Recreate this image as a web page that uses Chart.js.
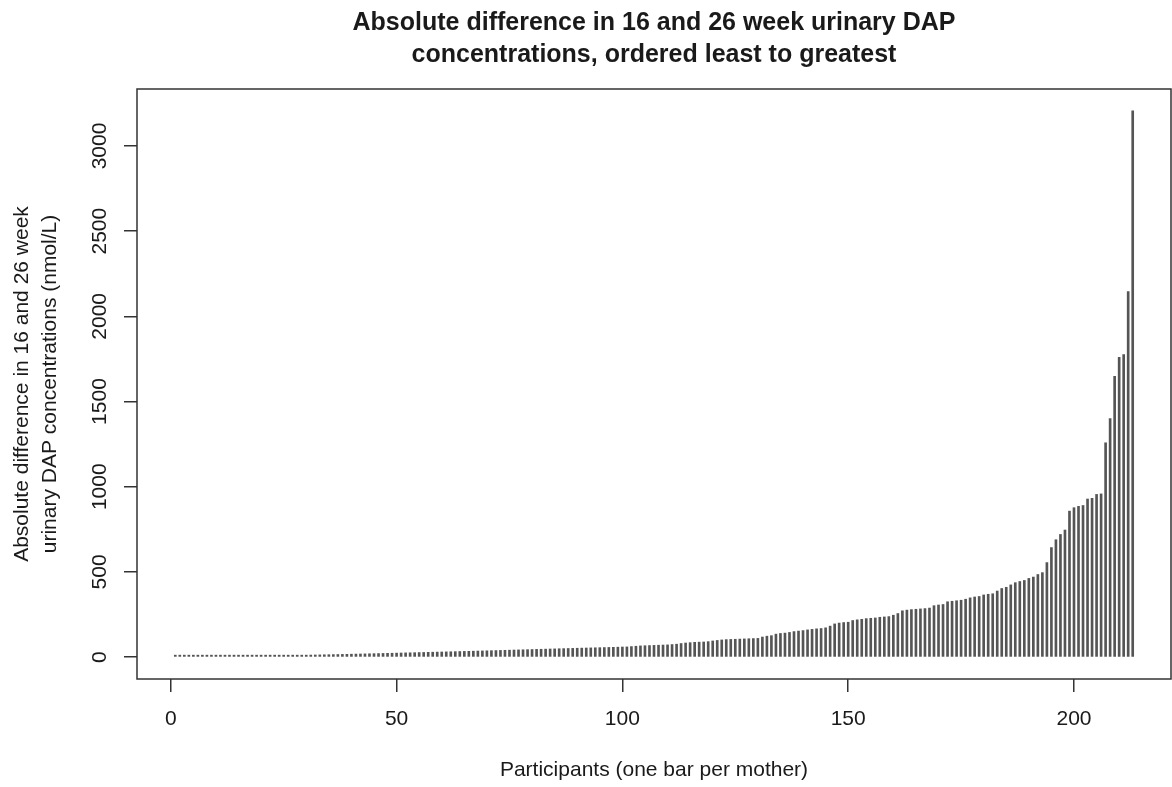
<!DOCTYPE html>
<html>
<head>
<meta charset="utf-8">
<title>Absolute difference in 16 and 26 week urinary DAP concentrations</title>
<script src="https://cdn.jsdelivr.net/npm/chart.js@4/dist/chart.umd.min.js"></script>
<style>
  html, body { margin: 0; padding: 0; background: #fff; }
</style>
</head>
<body>
<canvas id="dapChart" width="1172" height="787"></canvas>
<script>
// absolute 16 vs 26 week difference (nmol/L), one value per mother, sorted
const differences = [
  0.3, 0.6, 1, 1.3, 1.7, 2, 2.4, 2.8, 3.1, 3.5,
  3.9, 4.2, 4.6, 5, 5.4, 5.8, 6.1, 6.5, 7, 7.4,
  7.8, 8.2, 8.6, 9, 9.5, 10, 10.4, 10.9, 11.3, 11.8,
  12.3, 12.8, 13.3, 13.9, 14.4, 15, 15.5, 16.1, 16.7, 17.3,
  17.9, 18.5, 19.1, 19.8, 20.4, 21, 21.7, 22.3, 23, 23.6,
  24.3, 25, 25.6, 26.3, 27, 27.6, 28.3, 29, 29.6, 30.3,
  31, 31.6, 32.3, 33, 33.7, 34.3, 35, 35.8, 36.5, 37.2,
  38, 38.7, 39.5, 40.2, 41, 41.8, 42.5, 43.3, 44, 44.8,
  45.6, 46.3, 47, 47.8, 48.5, 49.3, 50, 50.8, 51.5, 52.2,
  53, 53.6, 54.3, 55, 55.6, 56.3, 57, 57.8, 58.5, 59.4,
  60, 62, 64, 66, 67, 68, 69, 70, 71, 72, 74, 76,
  80, 83, 85, 87, 88, 89, 91,
  95, 98, 101, 103, 104, 105, 106, 107, 108, 109, 110,
  118, 123, 126,
  135, 139, 141, 145,
  150, 153, 156,
  160, 163, 166, 168, 172,
  182,
  195, 200, 203, 205,
  215, 219, 222,
  226, 228, 230,
  234, 236, 238,
  246, 256,
  272, 276, 279, 281, 283, 285, 288,
  302, 306, 309,
  325, 328, 331, 334,
  340,
  348, 353, 356,
  365, 369, 372,
  388, 403, 410, 424, 437, 444, 450, 462, 470, 485,
  496, 555, 643, 689, 720, 746, 857, 877, 885, 890,
  928, 932, 955, 958, 1258, 1400, 1648, 1759, 1775, 2146,
  3206
];

const participants = [];
for (let i = 1; i <= differences.length; i++) participants.push(i);

const xTicks = [0, 50, 100, 150, 200];
const yTicks = [0, 500, 1000, 1500, 2000, 2500, 3000];

const titleLines = [
  "Absolute difference in 16 and 26 week urinary DAP",
  "concentrations, ordered least to greatest"
];
const yTitleLines = [
  "Absolute difference in 16 and 26 week",
  "urinary DAP concentrations (nmol/L)"
];
const xTitle = "Participants (one bar per mother)";

const FONT = "'Liberation Sans', Arial, Helvetica, sans-serif";
const TEXT = "#1a1a1a";

// R style 4% axis expansion
const xLo = 1, xHi = participants.length;
const yLo = 0, yHi = Math.max(...differences);
const xPad = (xHi - xLo) * 0.04;
const yPad = (yHi - yLo) * 0.04;

const frame = {
  id: "frame",
  beforeDraw(chart) {
    const ctx = chart.ctx;
    ctx.save();
    ctx.fillStyle = "#fff";
    ctx.fillRect(0, 0, chart.width, chart.height);
    ctx.restore();
  },
  afterDraw(chart) {
    const { ctx, chartArea: a } = chart;
    ctx.save();
    ctx.strokeStyle = "#333";
    ctx.lineWidth = 1.5;
    ctx.strokeRect(a.left, a.top, a.right - a.left, a.bottom - a.top);
    ctx.restore();
  }
};

function initChart() {
  const ctx = document.getElementById("dapChart").getContext("2d");
  new Chart(ctx, {
    type: "bar",
    data: {
      datasets: [{
        data: participants.map((p, i) => ({ x: p, y: differences[i] })),
        backgroundColor: "#555",
        borderWidth: 0,
        barThickness: 2,
        minBarLength: 2
      }]
    },
    options: {
      responsive: false,
      animation: false,
      events: [],
      layout: { padding: { top: 0, right: 1, bottom: 0, left: 0 } },
      plugins: {
        legend: { display: false },
        tooltip: { enabled: false },
        title: {
          display: true,
          fullSize: false,
          text: titleLines,
          color: TEXT,
          font: { family: FONT, size: 25, weight: "bold", lineHeight: 1.28 },
          padding: { top: 7, bottom: 18 }
        }
      },
      scales: {
        x: {
          type: "linear",
          min: xLo - xPad,
          max: xHi + xPad,
          offset: false,
          afterBuildTicks: s => { s.ticks = xTicks.map(v => ({ value: v })); },
          afterFit: s => { s.height = 108; },
          border: { display: false },
          grid: {
            display: true,
            offset: false,
            drawOnChartArea: false,
            drawTicks: true,
            tickLength: 13,
            color: "#333",
            lineWidth: 1.5
          },
          ticks: {
            autoSkip: false,
            maxRotation: 0,
            padding: 15,
            color: TEXT,
            font: { family: FONT, size: 21 },
            callback: v => String(v)
          },
          title: {
            display: true,
            text: xTitle,
            color: TEXT,
            font: { family: FONT, size: 21, lineHeight: 1.2 },
            padding: { top: 0, bottom: 4 }
          }
        },
        y: {
          type: "linear",
          min: yLo - yPad,
          max: yHi + yPad,
          afterBuildTicks: s => { s.ticks = yTicks.map(v => ({ value: v })); },
          afterFit: s => { s.width = 137; },
          border: { display: false },
          grid: {
            display: true,
            drawOnChartArea: false,
            drawTicks: true,
            tickLength: 13,
            color: "#333",
            lineWidth: 1.5
          },
          ticks: {
            autoSkip: false,
            minRotation: 90,
            maxRotation: 90,
            crossAlign: "center",
            padding: 0,
            color: TEXT,
            font: { family: FONT, size: 21 },
            callback: v => String(v)
          },
          title: {
            display: true,
            text: yTitleLines,
            color: TEXT,
            font: { family: FONT, size: 21, lineHeight: 1.33 },
            padding: { top: 8, bottom: 0 }
          }
        }
      }
    },
    plugins: [frame]
  });
}

window.onload = initChart;
</script>
</body>
</html>
